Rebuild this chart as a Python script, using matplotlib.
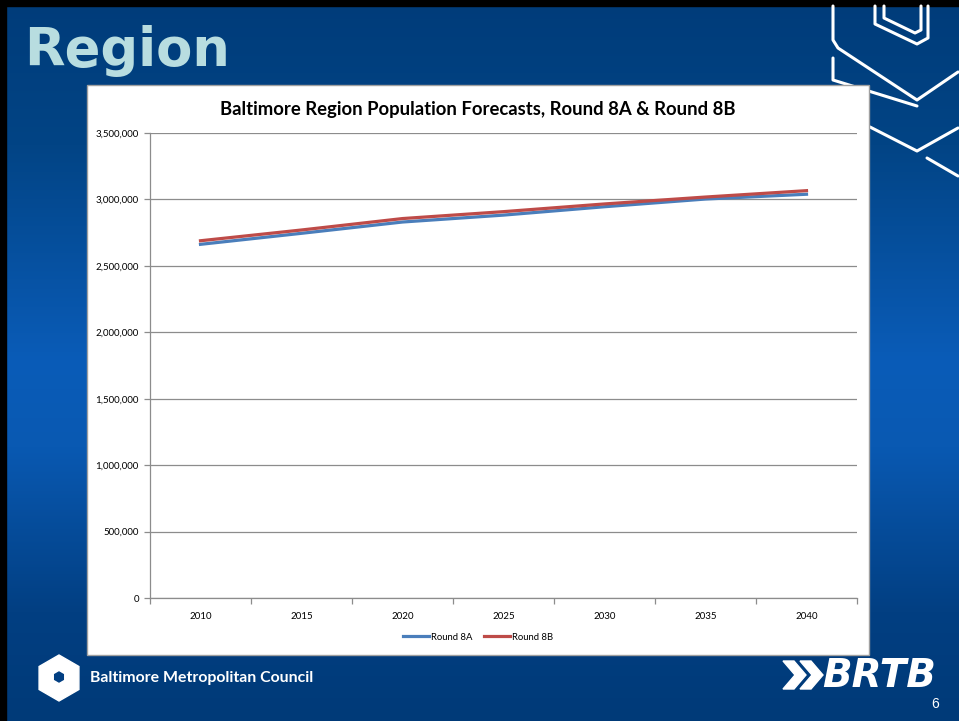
import matplotlib
matplotlib.use('Agg')
import matplotlib.pyplot as plt
import matplotlib.patches as mpatches
from matplotlib.colors import LinearSegmentedColormap
from matplotlib.ticker import FuncFormatter, MultipleLocator, FixedLocator
import numpy as np

plt.rcParams['font.family'] = ['Lato', 'DejaVu Sans']

# data
years = ['2010', '2015', '2020', '2025', '2030', '2035', '2040']
round_8a = [2662000, 2745000, 2830000, 2882000, 2945000, 3003000, 3039000]
round_8b = [2689000, 2770000, 2856000, 2908000, 2966000, 3018000, 3066000]

W, H = 959, 721
fig = plt.figure(figsize=(W / 100, H / 100), dpi=100)

# slide background, drawn in pixel coordinates
bg = fig.add_axes([0, 0, 1, 1])
bg.set_xlim(0, W)
bg.set_ylim(H, 0)
bg.axis('off')

cmap = LinearSegmentedColormap.from_list('slide', [
    (0.0, '#003c7a'), (0.2, '#024485'), (0.5, '#0a5cb8'),
    (0.62, '#0959b2'), (0.85, '#023f82'), (1.0, '#003a78')])
grad = np.linspace(0, 1, 256).reshape(-1, 1)
bg.imshow(grad, cmap=cmap, aspect='auto', extent=[0, W, H, 0], zorder=0)

# black edge top/left
bg.add_patch(mpatches.Rectangle((0, 0), W, 6, color='black', zorder=1))
bg.add_patch(mpatches.Rectangle((0, 0), 6, H, color='black', zorder=1))

# white outline decoration top-right
deco = [
    [(833, 6), (833, 40), (838, 48), (917, 100), (958, 72)],
    [(833, 58), (833, 80), (917, 106)],
    [(875, 6), (875, 24), (917, 44), (928, 38), (928, 6)],
    [(884, 6), (884, 18), (915, 33), (921, 30), (921, 6)],
    [(870, 127), (917, 151), (958, 128)],
    [(927, 158), (958, 176)],
]
for pts in deco:
    xs, ys = zip(*pts)
    bg.plot(xs, ys, color='white', lw=2.2, solid_capstyle='round',
            solid_joinstyle='round', zorder=1)

# title
bg.text(24, 66, 'Region', fontsize=38, fontweight='bold', color='#b8dde0',
        family='DejaVu Sans', ha='left', va='baseline', zorder=2)

# white chart box
bg.add_patch(mpatches.Rectangle((87, 85), 782, 570, facecolor='white',
                                edgecolor='#a0a0a0', lw=1, zorder=1))
bg.text(478, 115, 'Baltimore Region Population Forecasts, Round 8A & Round 8B',
        fontsize=13.3, fontweight='bold', color='black', ha='center',
        va='baseline', zorder=2)

# bottom left logo
bg.add_patch(mpatches.RegularPolygon((59, 678), 6, radius=23, orientation=0,
                                     color='white', zorder=2))
bg.add_patch(mpatches.RegularPolygon((59, 677), 6, radius=5, orientation=0,
                                     color='#023f82', zorder=3))
bg.text(90, 678, 'Baltimore Metropolitan Council', fontsize=11.4, fontweight='bold',
        color='white', ha='left', va='center', zorder=2)

# BRTB logo
for dx in (0, 17):
    bg.add_patch(mpatches.Polygon([(783 + dx, 661), (794 + dx, 661), (806 + dx, 675),
                                   (794 + dx, 689), (783 + dx, 689), (795 + dx, 675)],
                                  color='white', zorder=2))
bg.text(822, 676, 'BRTB', fontsize=28, fontweight='heavy', style='italic',
        color='white', ha='left', va='center', family='DejaVu Sans', zorder=2)
bg.text(935, 708, '6', fontsize=10, color='white', ha='center', va='baseline',
        family='Liberation Sans', zorder=2)

# chart axes
x0, x1, y0, y1 = 150, 857, 133, 598
ax = fig.add_axes([x0 / W, (H - y1) / H, (x1 - x0) / W, (y1 - y0) / H])
ax.set_facecolor('white')
ax.plot(years, round_8a, color='#4a7ebb', lw=2.3, label='Round 8A', zorder=3)
ax.plot(years, round_8b, color='#be4b48', lw=2.3, label='Round 8B', zorder=3)

ax.set_xlim(-0.5, len(years) - 0.5)
ax.set_ylim(0, 3500000)
ax.yaxis.set_major_locator(MultipleLocator(500000))
ax.yaxis.set_major_formatter(FuncFormatter(lambda v, p: f'{int(v):,}'))
ax.grid(axis='y', color='#8c8c8c', lw=0.9)
ax.set_axisbelow(True)

ax.xaxis.set_minor_locator(FixedLocator(np.arange(-0.5, len(years), 1.0)))
ax.tick_params(axis='x', which='major', length=0, pad=10, labelsize=7)
ax.tick_params(axis='x', which='minor', length=4, color='#8c8c8c', width=0.9)
ax.tick_params(axis='y', length=4, color='#8c8c8c', width=0.9, labelsize=7, pad=4)

for s in ['top', 'right']:
    ax.spines[s].set_visible(False)
for s in ['left', 'bottom']:
    ax.spines[s].set_color('#8c8c8c')
    ax.spines[s].set_linewidth(0.9)

leg = ax.legend(loc='center', bbox_to_anchor=((478 - x0) / (x1 - x0), -(637 - y1) / (y1 - y0)),
                ncol=2, frameon=False, fontsize=6.8, handlelength=2.8,
                columnspacing=1.2, handletextpad=0.2)

fig.savefig('out.png', dpi=100, facecolor='white')
plt.close()
print('Done')
